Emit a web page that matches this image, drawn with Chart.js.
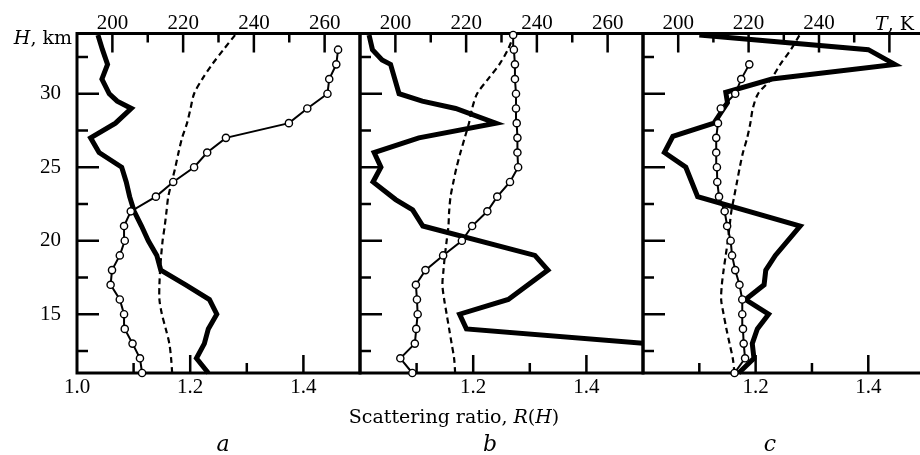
<!DOCTYPE html>
<html>
<head>
<meta charset="utf-8">
<script src="https://cdn.jsdelivr.net/npm/chart.js@4.4.1/dist/chart.umd.min.js"></script>
<style>
  body { margin: 0; background: #fff; }
  #wrap { position: relative; width: 920px; height: 455px; overflow: hidden; background: #fff; }
  #wrap canvas { position: absolute; left: 0; top: 0; }
  .lbl { position: absolute; font-family: 'DejaVu Serif', serif; font-size: 19px; line-height: 1; color: #000; white-space: nowrap; }
  .panel-name { font-size: 22px; font-style: italic; transform: translateX(-50%); }
</style>
</head>
<body>
<div id="wrap">
  <canvas id="panel-a" width="930" height="455"></canvas>
  <canvas id="panel-b" width="930" height="455"></canvas>
  <canvas id="panel-c" width="930" height="455"></canvas>
  <div class="lbl" id="h-title" style="right: 848px; top: 28px;"><i>H</i>, km</div>
  <div class="lbl" id="t-title" style="left: 875px; top: 14px;"><i>T</i>, K</div>
  <div class="lbl" id="x-title" style="left: 454px; top: 407px; transform: translateX(-50%);">Scattering ratio, <i>R</i>(<i>H</i>)</div>
  <div class="lbl panel-name" style="left: 223px; top: 433px;">a</div>
  <div class="lbl panel-name" style="left: 490px; top: 433px;">b</div>
  <div class="lbl panel-name" style="left: 770px; top: 433px;">c</div>
</div>
<script>
// Axis ticks
const heightTicks = [15, 20, 25, 30];
const heightMinor = [12.5, 17.5, 22.5, 27.5, 32.5];
const tempTicks = [200, 220, 240, 260];
const tempMinor = [210, 230, 250];
const ratioTicksA = [1.0, 1.2, 1.4];
const ratioTicks = [1.2, 1.4];
const ratioMinor = [1.1, 1.3];

// Heights (km) of the model temperature profile
const modelH = [11, 12, 13, 14, 15, 16, 17, 18, 19, 20, 21, 22, 23, 24, 25, 26, 27, 28, 29, 30, 31, 32, 33, 34];

// Panel a
const circHA = [11, 12, 13, 14, 15, 16, 17, 18, 19, 20, 21, 22, 23, 24, 25, 26, 27, 28, 29, 30, 31, 32, 33];
const circTA = [208.4, 207.8, 205.7, 203.5, 203.3, 202.1, 199.5, 199.9, 202.1, 203.5, 203.3, 205.2, 212.3, 217.2, 223.1, 226.8, 232.1, 249.9, 255.1, 260.8, 261.3, 263.3, 263.8];
const modelTA = [216.9, 216.6, 216.1, 215.1, 214.0, 213.3, 213.3, 213.5, 213.8, 214.2, 214.8, 215.3, 215.8, 216.8, 217.8, 218.7, 219.7, 221.1, 222.1, 223.1, 225.4, 228.2, 231.4, 234.7];
const ratioHA = [34, 33, 32, 31, 30, 29.5, 29, 28, 27, 26, 25, 24, 23, 22, 21, 20, 19, 18, 17, 16, 15, 14, 13, 12, 11];
const ratioA = [1.037, 1.045, 1.054, 1.044, 1.057, 1.071, 1.096, 1.068, 1.024, 1.039, 1.079, 1.087, 1.093, 1.101, 1.114, 1.126, 1.141, 1.148, 1.192, 1.234, 1.247, 1.232, 1.225, 1.211, 1.232];

// Panel b
const circHB = [11, 12, 13, 14, 15, 16, 17, 18, 19, 20, 21, 22, 23, 24, 25, 26, 27, 28, 29, 30, 31, 32, 33, 34];
const circTB = [204.8, 201.4, 205.5, 205.9, 206.3, 206.1, 205.8, 208.5, 213.5, 218.8, 221.7, 226.0, 228.8, 232.4, 234.7, 234.5, 234.5, 234.3, 234.1, 234.1, 233.8, 233.8, 233.5, 233.3];
const modelTB = [216.9, 216.6, 215.9, 215.2, 214.5, 213.8, 213.3, 213.6, 214.0, 214.5, 215.0, 215.2, 215.6, 216.4, 217.3, 218.4, 219.6, 220.8, 221.7, 223.1, 226.2, 229.4, 231.8, 233.5];
const ratioHB = [34, 33, 32.3, 32, 30, 29.5, 29, 28, 27, 26, 25, 24, 22.8, 22.1, 21, 19, 18, 16, 15, 14, 13];
const ratioB = [1.016, 1.022, 1.039, 1.054, 1.069, 1.110, 1.169, 1.240, 1.104, 1.025, 1.037, 1.023, 1.063, 1.093, 1.111, 1.309, 1.332, 1.262, 1.176, 1.188, 1.51];

// Panel c
const circHC = [11, 12, 13, 14, 15, 16, 17, 18, 19, 20, 21, 22, 23, 24, 25, 26, 27, 28, 29, 30, 31, 32];
const circTC = [216.0, 219.0, 218.6, 218.4, 218.2, 218.2, 217.4, 216.2, 215.3, 214.9, 213.9, 213.2, 211.6, 211.1, 211.0, 210.8, 210.8, 211.3, 212.1, 216.2, 217.9, 220.2];
const modelTC = [216.0, 215.5, 214.6, 213.7, 212.9, 212.2, 212.4, 212.9, 213.5, 214.1, 214.6, 215.1, 215.9, 216.7, 217.5, 218.4, 219.6, 220.5, 221.2, 222.7, 226.4, 229.0, 232.0, 234.5];
const ratioHC = [34, 33, 32, 31, 30.1, 29.4, 28, 27.1, 26, 25, 23, 21, 19, 18, 17, 16, 15, 14, 13, 12, 11];
const ratioC = [1.10, 1.400, 1.447, 1.229, 1.147, 1.150, 1.126, 1.053, 1.038, 1.076, 1.097, 1.279, 1.235, 1.218, 1.215, 1.182, 1.223, 1.203, 1.194, 1.197, 1.170];

// Layout
const PANEL_W = 283;
const AREA_LEFT = 77;
const AREA_TOP = 33.5;
const AREA_BOTTOM = 373;
const CANVAS_H = 455;

const tickFont = { family: "'Liberation Serif', serif", size: 21, lineHeight: 1 };

// frame + inward tick marks, drawn through the chart's scales
const framePlugin = {
  id: 'frame',
  beforeDatasetsDraw(chart) {
    const { ctx, chartArea: { left, right, top, bottom }, scales } = chart;
    const ticks = chart.options.plugins.frame;
    ctx.save();
    ctx.strokeStyle = '#000';
    ctx.lineWidth = 2.5;
    ctx.beginPath();
    const vTick = (val, len) => {
      const y = scales.y.getPixelForValue(val);
      ctx.moveTo(left, y); ctx.lineTo(left + len, y);
    };
    heightTicks.forEach(v => vTick(v, 22));
    heightMinor.forEach(v => vTick(v, 11));
    tempTicks.forEach(v => {
      const x = scales.xT.getPixelForValue(v);
      ctx.moveTo(x, top); ctx.lineTo(x, top + 19);
    });
    tempMinor.forEach(v => {
      const x = scales.xT.getPixelForValue(v);
      ctx.moveTo(x, top); ctx.lineTo(x, top + 9);
    });
    ticks.ratioMajor.forEach(v => {
      const x = scales.xR.getPixelForValue(v);
      ctx.moveTo(x, bottom); ctx.lineTo(x, bottom - 18);
    });
    ratioMinor.forEach(v => {
      const x = scales.xR.getPixelForValue(v);
      ctx.moveTo(x, bottom); ctx.lineTo(x, bottom - 10);
    });
    ctx.stroke();
    ctx.lineWidth = 3;
    ctx.strokeRect(left, top, right - left, bottom - top);
    ctx.restore();
  }
};

function makePanel(canvasId, index, circH, circT, modelT, ratioH, ratio, ratioLabels, tempLabels) {
  const canvas = document.getElementById(canvasId);
  const left = AREA_LEFT + PANEL_W * index;
  const right = left + PANEL_W;
  return new Chart(canvas, {
    type: 'scatter',
    data: {
      datasets: [
        {
          // measured temperature, open circles
          data: circH.map((h, k) => ({ x: circT[k], y: h })),
          xAxisID: 'xT',
          showLine: true,
          borderColor: '#000',
          borderWidth: 2,
          pointRadius: 3.6,
          pointBackgroundColor: '#fff',
          pointBorderColor: '#000',
          pointBorderWidth: 1.4,
          clip: false
        },
        {
          // model temperature, dashed
          data: modelH.map((h, k) => ({ x: modelT[k], y: h })),
          xAxisID: 'xT',
          showLine: true,
          borderColor: '#000',
          borderWidth: 2.2,
          borderDash: [6, 4],
          pointRadius: 0,
          tension: 0.3
        },
        {
          // scattering ratio R(H), thick line
          data: ratioH.map((h, k) => ({ x: ratio[k], y: h })),
          xAxisID: 'xR',
          showLine: true,
          borderColor: '#000',
          borderWidth: 5,
          borderJoinStyle: 'miter',
          pointRadius: 0,
          clip: { left: 0, right: 0, top: 5, bottom: 5 }
        }
      ]
    },
    options: {
      responsive: false,
      devicePixelRatio: 1,
      animation: false,
      events: [],
      layout: { padding: { left: 0, top: 0, bottom: 0, right: canvas.width - right } },
      plugins: {
        legend: { display: false },
        tooltip: { enabled: false },
        frame: { ratioMajor: ratioTicks }
      },
      scales: {
        y: {
          type: 'linear', position: 'left', min: 11, max: 34.1,
          afterFit: s => { s.width = left; },
          afterBuildTicks: s => { s.ticks = heightTicks.map(v => ({ value: v })); },
          grid: { display: false, drawTicks: false },
          border: { display: false },
          ticks: { display: index === 0, padding: 16, font: tickFont, color: '#000' }
        },
        xR: {
          type: 'linear', position: 'bottom', min: 1.0, max: 1.5,
          afterFit: s => { s.height = CANVAS_H - AREA_BOTTOM; },
          afterBuildTicks: s => { s.ticks = ratioLabels.map(v => ({ value: v })); },
          grid: { display: false, drawTicks: false },
          border: { display: false },
          ticks: { padding: 4, font: tickFont, color: '#000', autoSkip: false, maxRotation: 0,
                   callback: v => v.toFixed(1) }
        },
        xT: {
          type: 'linear', position: 'top', min: 190, max: 270,
          afterFit: s => { s.height = AREA_TOP; },
          afterBuildTicks: s => { s.ticks = tempLabels.map(v => ({ value: v })); },
          grid: { display: false, drawTicks: false },
          border: { display: false },
          ticks: { padding: 0, font: tickFont, color: '#000', autoSkip: false, maxRotation: 0 }
        }
      }
    },
    plugins: [framePlugin]
  });
}

makePanel('panel-a', 0, circHA, circTA, modelTA, ratioHA, ratioA, ratioTicksA, tempTicks);
makePanel('panel-b', 1, circHB, circTB, modelTB, ratioHB, ratioB, ratioTicks, tempTicks);
makePanel('panel-c', 2, circHC, circTC, modelTC, ratioHC, ratioC, ratioTicks, [200, 220, 240]);
</script>
</body>
</html>
